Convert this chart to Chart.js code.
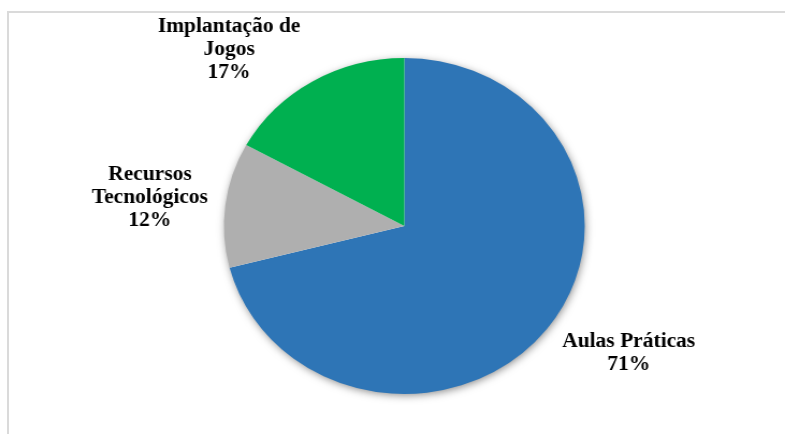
<!DOCTYPE html>
<html lang="pt">
<head>
  <meta charset="UTF-8" />
  <title>Pizza</title>
  <script src="https://cdn.jsdelivr.net/npm/chart.js"></script>
  <style>
    html, body { margin: 0; padding: 0; background: #fff; overflow: hidden; }
    #frame { position: absolute; left: 7px; top: 11px; width: 800px; height: 440px;
             border-left: 2px solid #dadada; border-top: 2px solid #dadada; }
    #wrap { position: absolute; left: 0; top: 0; width: 731px; height: 434px;
            transform: scaleX(1.0739); transform-origin: 0 0; }
    #warm { position: absolute; left: -999px; font: bold 20px "Liberation Serif"; }
  </style>
</head>
<body>
  <div id="frame"></div>
  <span id="warm">Implantação</span>
  <div id="wrap"><canvas id="chart" width="731" height="434"></canvas></div>

  <script>
    const categories = ['Aulas Práticas', 'Recursos Tecnológicos', 'Implantação de Jogos'];
    const labelLines = [['Aulas Práticas'], ['Recursos', 'Tecnológicos'], ['Implantação de', 'Jogos']];
    const values = [71, 12, 17];
    const colors = ['#2E75B6', '#AFAFAF', '#00B050'];

    // onde ficam os rótulos (ângulo em graus, distância em raios)
    const labelPos = [[31.4, 1.457], [186.7, 1.42], [227.2, 1.43]];
    const labelFont = 'bold 20px "Liberation Serif", "DejaVu Serif", serif';

    const pieShadow = {
      id: 'pieShadow',
      beforeDatasetsDraw(chart) {
        const arc = chart.getDatasetMeta(0).data[0];
        if (!arc) return;
        const ctx = chart.ctx;
        ctx.save();
        ctx.shadowColor = 'rgba(0,0,0,0.5)';
        ctx.shadowBlur = 9;
        ctx.shadowOffsetX = 1;
        ctx.shadowOffsetY = 2;
        ctx.fillStyle = '#fff';
        ctx.beginPath();
        ctx.arc(arc.x, arc.y, arc.outerRadius - 1, 0, Math.PI * 2);
        ctx.fill();
        ctx.restore();
      }
    };

    const pieLabels = {
      id: 'pieLabels',
      afterDatasetsDraw(chart) {
        const ctx = chart.ctx;
        const meta = chart.getDatasetMeta(0);
        const total = values.reduce((a, b) => a + b, 0);
        ctx.save();
        ctx.font = labelFont;
        ctx.fillStyle = '#000';
        ctx.textAlign = 'center';
        ctx.textBaseline = 'middle';
        meta.data.forEach((arc, i) => {
          const a = labelPos[i][0] * Math.PI / 180;
          const cx = arc.x + Math.cos(a) * arc.outerRadius * labelPos[i][1];
          const cy = arc.y + Math.sin(a) * arc.outerRadius * labelPos[i][1];
          const lines = labelLines[i].concat([Math.round(values[i] / total * 100) + '%']);
          const lh = 23;
          const top = cy - (lines.length - 1) * lh / 2;
          lines.forEach((t, j) => ctx.fillText(t, cx, top + j * lh));
        });
        ctx.restore();
      }
    };

    function draw() {
      new Chart(document.getElementById('chart'), {
        type: 'pie',
        data: {
          labels: categories,
          datasets: [{
            data: values,
            backgroundColor: colors,
            borderWidth: 0
          }]
        },
        options: {
          responsive: false,
          devicePixelRatio: 1,
          animation: false,
          layout: { padding: { top: 58, bottom: 40, left: 22, right: 0 } },
          plugins: {
            legend: { display: false },
            tooltip: { enabled: false }
          }
        },
        plugins: [pieShadow, pieLabels]
      });
    }

    document.fonts.load(labelFont, 'Implantação').then(draw, draw);
  </script>
</body>
</html>
